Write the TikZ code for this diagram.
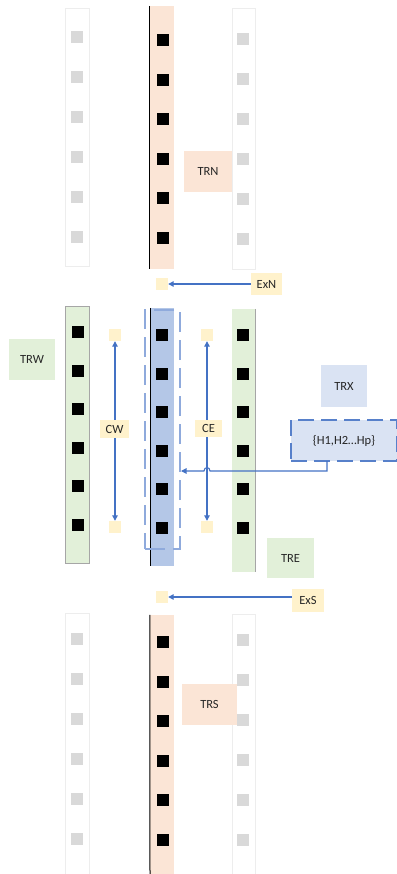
\documentclass[tikz,border=0pt]{standalone}
\usepackage{fontspec}
\setmainfont{Carlito}
\usetikzlibrary{arrows.meta}
\definecolor{peach}{HTML}{FBE5D6}
\definecolor{lgreen}{HTML}{E2F0D9}
\definecolor{mblue}{HTML}{B4C7E7}
\definecolor{lblue}{HTML}{DAE3F3}
\definecolor{lyellow}{HTML}{FFF2CC}
\definecolor{sqgray}{HTML}{D9D9D9}
\definecolor{arrblue}{HTML}{4472C4}
\definecolor{dashblue}{HTML}{8FAADC}
\definecolor{ghost}{HTML}{EDEDED}
\tikzset{
  col/.style={inner sep=0pt, minimum width=24pt},
  ghostcol/.style={col, draw=ghost, line width=0.8pt, fill=white},
  blk/.style={fill=black, inner sep=0pt, minimum size=12pt},
  gry/.style={fill=sqgray, inner sep=0pt, minimum size=12pt},
  tiny/.style={fill=lyellow, inner sep=0pt, minimum size=12pt},
  lab/.style={inner sep=0pt, font=\fontsize{12.5}{14}\selectfont, text=black!85},
  arr/.style={draw=arrblue, line width=1.1pt, -{Triangle[length=5.5pt,width=5.5pt]}},
  darr/.style={draw=arrblue, line width=1.1pt, {Triangle[length=5.5pt,width=5.5pt]}-{Triangle[length=5.5pt,width=5.5pt]}},
}
\begin{document}
\begin{tikzpicture}[x=1pt,y=-1pt]
\useasboundingbox (0,0) rectangle (396,874);
% ---------- top section ----------
\node[ghostcol, minimum height=258pt] (gTL) at (77,137) {};
\node[ghostcol, minimum height=261pt, minimum width=23pt] (gTR) at (243.5,138.5) {};
\node[col, fill=peach, minimum height=263pt] (cN) at (162,137.5) {};
\draw[line width=1pt] (cN.north west) -- (cN.south west);
\foreach \i in {0,...,5} {
  \node[gry] (gTLs\i) at (77,{37+40*\i}) {};
  \node[gry] (gTRs\i) at (243,{39+40*\i}) {};
  \node[blk] (bN\i) at (162.5,{40+39.6*\i}) {};
}
\node[lab, fill=peach, minimum width=48pt, minimum height=41pt] (TRN) at (208,171.5) {TRN};
\node[tiny] (sqN) at (162,284) {};
\node[lab, fill=lyellow, minimum width=31pt, minimum height=22pt] (ExN) at (266.5,284) {ExN};
\draw[arr] (ExN.west) -- (sqN.east);
% ---------- middle section ----------
\node[col, fill=lgreen, draw=gray!70, line width=0.8pt, minimum height=257pt] (cW) at (77,434.5) {};
\node[col, fill=lgreen, minimum width=23pt, minimum height=263pt] (cE) at (243.5,440.5) {};
\draw[gray!70, line width=0.8pt] (cE.north east) -- (cE.south east);
\node[col, fill=mblue, minimum width=23pt, minimum height=258pt] (cX) at (162.5,437) {};
\draw[line width=1pt] (cX.north west) -- (cX.south west);
\node[inner sep=0pt, minimum width=35pt, minimum height=239pt, draw=dashblue, line width=2pt, dash pattern=on 20pt off 8pt] (dR) at (162.5,429.5) {};
\foreach \i in {0,...,5} {
  \node[blk] (bW\i) at (78,{332+38.5*\i}) {};
  \node[blk] (bX\i) at (162,{335+38.5*\i}) {};
  \node[blk] (bE\i) at (243,{335+38.5*\i}) {};
}
\node[lab, fill=lgreen, minimum width=46pt, minimum height=41pt] (TRW) at (32,359.5) {TRW};
\node[lab, fill=lgreen, minimum width=47pt, minimum height=40pt] (TRE) at (290.5,558) {TRE};
\node[lab, fill=lblue, minimum width=46pt, minimum height=42pt] (TRX) at (344,386) {TRX};
\node[lab, fill=lblue, draw=arrblue!90, line width=1.5pt, dash pattern=on 16pt off 7pt, minimum width=106pt, minimum height=41pt] (H) at (344,440.5) {\{H1,H2…Hp\}};
% CW
\node[tiny] (cwT) at (115,335) {};
\node[tiny] (cwB) at (115,527) {};
\draw[darr] (cwT.south) -- (cwB.north);
\node[lab, fill=lyellow, minimum width=29pt, minimum height=18pt] (CW) at (114.5,429) {CW};
% CE
\node[tiny] (ceT) at (207,335) {};
\node[tiny] (ceB) at (207,527) {};
\draw[darr] (ceT.south) -- (ceB.north);
\node[lab, fill=lyellow, minimum width=27pt, minimum height=17pt] (CE) at (208.5,428.5) {CE};
% H -> dashed rect
\coordinate (hOut) at (327,461);
\draw[arr] (hOut) -- (327,471) -- (210,471) .. controls (210,466.5) and (204,466.5) .. (204,471) -- (dR.east |- 0,471);
% ---------- bottom section ----------
\node[tiny] (sqS) at (162,597) {};
\node[lab, fill=lyellow, minimum width=32pt, minimum height=23pt] (ExS) at (308,600) {ExS};
\draw[arr] (ExS.west |- sqS) -- (sqS.east);
\node[ghostcol, minimum height=270pt] (gBL) at (77,748) {};
\node[ghostcol, minimum height=270pt, minimum width=23pt] (gBR) at (243.5,749) {};
\node[col, fill=peach, minimum height=270pt] (cS) at (162,750) {};
\draw[line width=1pt] (cS.north west) -- (162-12,874);
\foreach \i in {0,...,5} {
  \node[gry] (gBLs\i) at (77,{639+40*\i}) {};
  \node[gry] (gBRs\i) at (243,{640+40*\i}) {};
  \node[blk] (bS\i) at (162.5,{642+39.6*\i}) {};
}
\node[lab, fill=peach, minimum width=55pt, minimum height=41pt] (TRS) at (209.5,704.5) {TRS};
\end{tikzpicture}
\end{document}
